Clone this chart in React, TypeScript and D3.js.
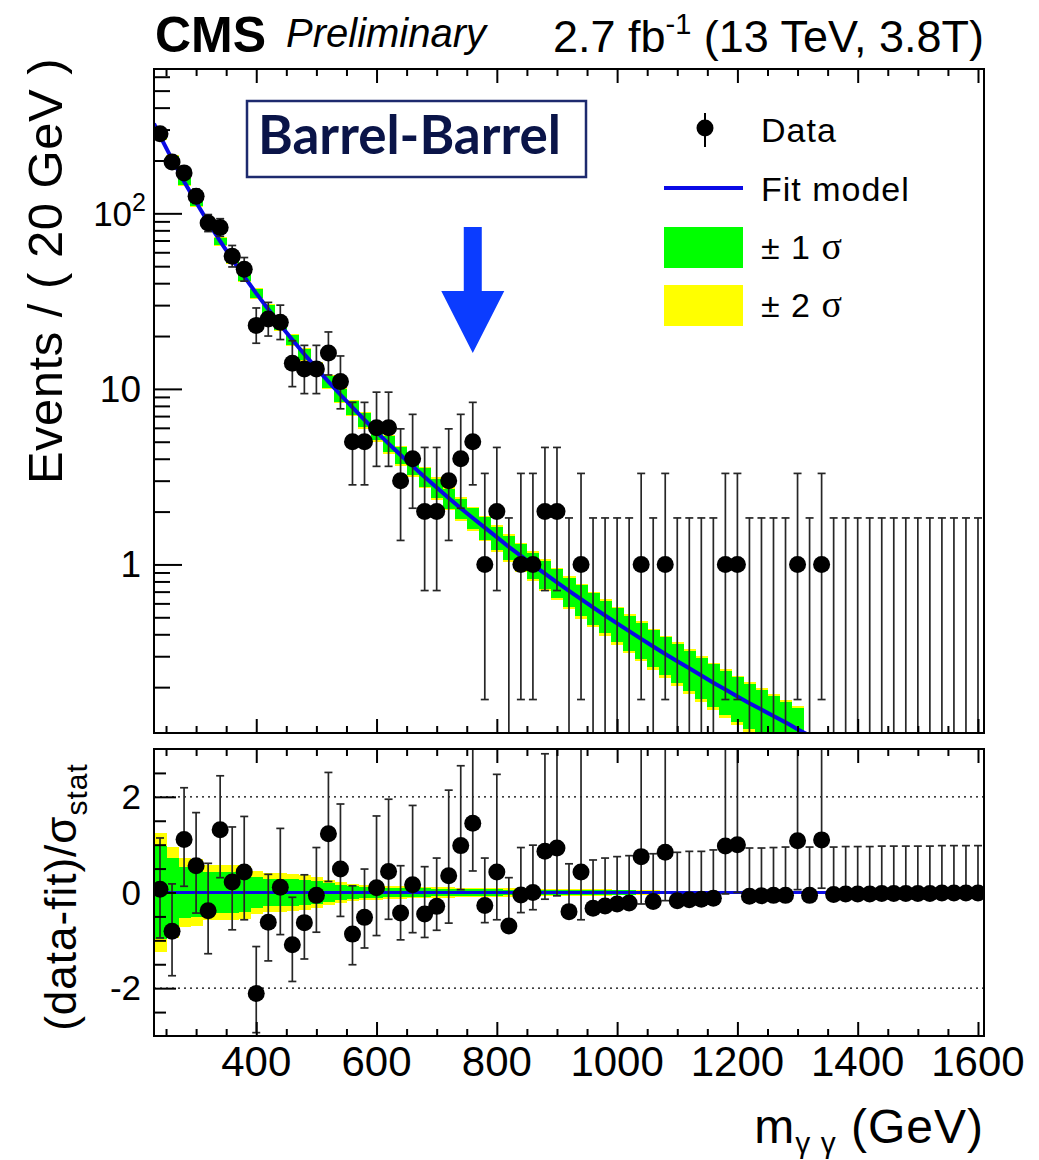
import React, { useRef, useEffect } from 'react';
import * as d3 from 'd3';

// diphoton mass bin centres (GeV), 20 GeV wide
const massBins = [
  240, 260, 280, 300, 320, 340, 360, 380, 400, 420, 440, 460, 480, 500, 520, 540, 560, 580, 600, 620,
  640, 660, 680, 700, 720, 740, 760, 780, 800, 820, 840, 860, 880, 900, 920, 940, 960, 980, 1000, 1020,
  1040, 1060, 1080, 1100, 1120, 1140, 1160, 1180, 1200, 1220, 1240, 1260, 1280, 1300, 1320, 1340, 1360,
  1380, 1400, 1420, 1440, 1460, 1480, 1500, 1520, 1540, 1560, 1580, 1600,
];

// observed events per bin
const events = [
  284, 196, 170, 125, 88, 83, 57, 48, 23, 25, 24, 14, 13, 13, 16, 11, 5, 5, 6, 6,
  3, 4, 2, 2, 3, 4, 5, 1, 2, 0, 1, 1, 2, 2, 0, 1, 0, 0, 0, 0,
  1, 0, 1, 0, 0, 0, 0, 1, 1, 0, 0, 0, 0, 1, 0, 1, 0,
  0, 0, 0, 0, 0, 0, 0, 0, 0, 0, 0, 0,
];

// poisson interval (down / up) on the events
const eventsErrDown = [
  16.8, 13.9, 13.0, 11.1, 9.3, 9.1, 7.5, 6.9, 4.8, 5.0, 4.9, 3.7, 3.6, 3.6, 4.0, 3.3, 2.16, 2.16, 2.38, 2.38,
  1.63, 1.91, 1.29, 1.29, 1.63, 1.91, 2.16, 0.83, 1.29, 0, 0.83, 0.83, 1.29, 1.29, 0, 0.83, 0, 0, 0, 0,
  0.83, 0, 0.83, 0, 0, 0, 0, 0.83, 0.83, 0, 0, 0, 0, 0.83, 0, 0.83, 0,
  0, 0, 0, 0, 0, 0, 0, 0, 0, 0, 0, 0,
];
const eventsErrUp = [
  17.9, 15.0, 14.1, 12.2, 10.4, 10.2, 8.6, 8.0, 5.9, 6.1, 6.0, 4.8, 4.7, 4.7, 5.1, 4.4, 3.38, 3.38, 3.58, 3.58,
  2.92, 3.16, 2.64, 2.64, 2.92, 3.16, 3.38, 2.3, 2.64, 1.84, 2.3, 2.3, 2.64, 2.64, 1.84, 2.3, 1.84, 1.84, 1.84, 1.84,
  2.3, 1.84, 2.3, 1.84, 1.84, 1.84, 1.84, 2.3, 2.3, 1.84, 1.84, 1.84, 1.84, 2.3, 1.84, 2.3, 1.84,
  1.84, 1.84, 1.84, 1.84, 1.84, 1.84, 1.84, 1.84, 1.84, 1.84, 1.84, 1.84,
];

// fit model curve
const fitMass = [
  230, 240, 260, 280, 300, 320, 340, 360, 380, 400, 420, 440, 460, 480, 500, 520, 540, 560, 580, 600,
  620, 640, 660, 680, 700, 720, 740, 760, 780, 800, 820, 840, 860, 880, 900, 920, 940, 960, 980, 1000,
  1020, 1040, 1060, 1080, 1100, 1120, 1140, 1160, 1180, 1200, 1220, 1240, 1260, 1280, 1300, 1320, 1340,
];
const fitEvents = [
  324, 276, 203, 152, 115.5, 88.9, 69.4, 54.7, 43.6, 35.0, 28.4, 23.1, 19.05, 15.76, 13.13, 11.0, 9.26, 7.84, 6.66, 5.69,
  4.88, 4.2, 3.63, 3.15, 2.74, 2.39, 2.09, 1.84, 1.62, 1.43, 1.26, 1.12, 0.994, 0.886, 0.791, 0.707, 0.634, 0.569, 0.512, 0.462,
  0.417, 0.377, 0.341, 0.309, 0.281, 0.256, 0.233, 0.212, 0.194, 0.177, 0.162, 0.149, 0.137, 0.126, 0.115, 0.106, 0.098,
];

// relative fit uncertainty bands (bins 240..1300)
const band1Rel = [
  0.04, 0.04, 0.04, 0.045, 0.045, 0.045, 0.05, 0.05, 0.055, 0.06, 0.06, 0.065, 0.07, 0.075, 0.08, 0.085, 0.09, 0.095,
  0.1, 0.105, 0.11, 0.115, 0.12, 0.125, 0.13, 0.135, 0.14, 0.145, 0.15, 0.16, 0.165, 0.17, 0.18, 0.185, 0.19, 0.2,
  0.205, 0.21, 0.22, 0.225, 0.23, 0.24, 0.245, 0.25, 0.26, 0.265, 0.27, 0.28, 0.285, 0.29, 0.3, 0.305, 0.31, 0.32,
];
const band2Rel = [
  0.055, 0.055, 0.055, 0.06, 0.06, 0.06, 0.065, 0.065, 0.07, 0.075, 0.075, 0.08, 0.085, 0.09, 0.095, 0.1, 0.105, 0.11,
  0.12, 0.125, 0.13, 0.135, 0.14, 0.145, 0.15, 0.155, 0.16, 0.165, 0.175, 0.185, 0.19, 0.195, 0.205, 0.21, 0.215, 0.225,
  0.23, 0.235, 0.245, 0.25, 0.255, 0.265, 0.27, 0.28, 0.29, 0.295, 0.3, 0.31, 0.315, 0.32, 0.33, 0.335, 0.34, 0.35,
];

// (data-fit)/sigma_stat per bin
const pulls = [
  0.07, -0.81, 1.11, 0.56, -0.38, 1.31, 0.22, 0.43, -2.11, -0.62, 0.11, -1.09, -0.63, -0.06, 1.23, 0.49, -0.87, -0.52, 0.1, 0.44,
  -0.43, 0.16, -0.45, -0.29, 0.35, 0.98, 1.45, -0.27, 0.43, -0.7, -0.05, 0.0, 0.86, 0.93, -0.4, 0.43, -0.33, -0.28, -0.24, -0.22,
  0.75, -0.19, 0.84, -0.17, -0.15, -0.14, -0.12, 0.97, 1.0, -0.08, -0.07, -0.06, -0.06, 1.08, -0.06, 1.1, -0.04,
  -0.03, -0.03, -0.03, -0.02, -0.02, -0.02, -0.02, -0.02, -0.01, -0.01, -0.01, -0.01,
];
const pullErrDown = [
  1.02, 0.93, 0.98, 0.99, 0.9, 1.0, 1.0, 1.0, 0.82, 0.81, 0.99, 0.77, 0.76, 0.77, 1.0, 0.99, 0.64, 0.64, 1.0, 1.0,
  0.56, 1.0, 0.49, 0.5, 0.99, 0.92, 1.0, 0.36, 1.0, 0, 0.37, 0.36, 1.0, 1.0, 0, 1.0, 0, 0, 0, 0,
  0.99, 0, 1.01, 0, 0, 0, 0, 1.0, 1.0, 0, 0, 0, 0, 1.02, 0, 1.01, 0,
  0, 0, 0, 0, 0, 0, 0, 0, 0, 0, 0, 0,
];
const pullErrUp = [
  1.07, 0.99, 1.08, 1.11, 0.99, 1.13, 1.15, 1.16, 0.98, 1.0, 1.23, 0.99, 1.0, 1.0, 1.28, 1.36, 1.01, 1.01, 1.5, 1.51,
  0.99, 1.66, 0.99, 1.01, 1.79, 1.67, 1.75, 0.99, 2.04, 1.01, 0.99, 0.99, 2.04, 2.2, 1.0, 2.77, 1.01, 1.0, 0.99, 0.99,
  2.77, 1.0, 2.77, 1.01, 1.01, 1.0, 1.01, 2.77, 2.77, 1.01, 1.0, 1.0, 1.01, 2.77, 1.01, 2.77, 0.99,
  0.99, 0.99, 0.99, 0.99, 0.99, 0.99, 0.99, 0.99, 0.99, 0.99, 0.99, 0.99,
];
const pullBand2 = [
  1.25, 0.95, 0.72, 0.7, 0.58, 0.58, 0.58, 0.55, 0.45, 0.4, 0.4, 0.38, 0.36, 0.33, 0.26, 0.22, 0.18, 0.16, 0.15, 0.14,
  0.13, 0.125, 0.12, 0.11, 0.105, 0.1, 0.095, 0.09, 0.09, 0.085, 0.085, 0.08, 0.08, 0.075, 0.075, 0.07, 0.07, 0.065, 0.06, 0.06,
  0.055, 0.05, 0.04, 0.03, 0.025, 0.02, 0.02, 0.015, 0.015, 0.01, 0.01, 0.01, 0.01, 0.01, 0.01, 0.01, 0.01,
  0.01, 0.01, 0.01, 0.01, 0.01, 0.01, 0.01, 0.01, 0.01, 0.01, 0.01, 0.01,
];
const pullBand1 = [
  0.98, 0.72, 0.54, 0.52, 0.43, 0.43, 0.42, 0.4, 0.33, 0.29, 0.29, 0.28, 0.26, 0.24, 0.19, 0.16, 0.13, 0.12, 0.11, 0.1,
  0.095, 0.09, 0.085, 0.08, 0.075, 0.07, 0.07, 0.065, 0.065, 0.06, 0.06, 0.058, 0.058, 0.055, 0.055, 0.05, 0.05, 0.047, 0.044, 0.044,
  0.04, 0.036, 0.03, 0.022, 0.018, 0.015, 0.015, 0.011, 0.011, 0.007, 0.007, 0.007, 0.007, 0.007, 0.007, 0.007, 0.007,
  0.007, 0.007, 0.007, 0.007, 0.007, 0.007, 0.007, 0.007, 0.007, 0.007, 0.007, 0.007,
];

const xTickLabels = [400, 600, 800, 1000, 1200, 1400, 1600];
const yTickLabels = [1, 10, 100];
const pullTickLabels = [-2, 0, 2];

// signal region marker
const arrowMass = 760;
const arrowTipEvents = 16;

const W = 1039;
const H = 1160;
const FONT = '"Liberation Sans", Arial, Helvetica, sans-serif';
const BLUE = '#0a0ae6';
const box = { left: 154, right: 984, top: 69, mid: 733, pullTop: 749, bottom: 1036 };

const DiphotonPlot = () => {
  const svgRef = useRef<SVGSVGElement | null>(null);

  useEffect(() => {
    const svg = d3.select(svgRef.current);
    svg.selectAll('*').remove();

    const x = d3.scaleLinear().domain([230, 1610]).range([box.left, box.right]);
    const y = d3.scaleLog().domain([0.1096, 664]).range([box.mid, box.top]);
    const yp = d3.scaleLinear().domain([-3, 3]).range([box.bottom, box.pullTop]);
    const half = 10;
    const fitAt = new Map(fitMass.map((m, i) => [m, fitEvents[i]]));

    const defs = svg.append('defs');
    defs.append('clipPath').attr('id', 'clip-top').append('rect')
      .attr('x', box.left).attr('y', box.top)
      .attr('width', box.right - box.left).attr('height', box.mid - box.top);
    defs.append('clipPath').attr('id', 'clip-pull').append('rect')
      .attr('x', box.left).attr('y', box.pullTop)
      .attr('width', box.right - box.left).attr('height', box.bottom - box.pullTop);

    // ---------- upper panel ----------
    const top = svg.append('g').attr('clip-path', 'url(#clip-top)');
    const bandBins = massBins.slice(0, band1Rel.length);

    const drawBand = (rel: number[], color: string) => {
      top.append('g').selectAll('rect').data(bandBins).enter().append('rect')
        .attr('x', (d) => x(d - half))
        .attr('width', (d) => x(d + half) - x(d - half) + 0.5)
        .attr('y', (d, i) => y(fitAt.get(d)! * (1 + rel[i])))
        .attr('height', (d, i) => Math.min(y(fitAt.get(d)! * (1 - rel[i])), box.mid + 5) - y(fitAt.get(d)! * (1 + rel[i])))
        .attr('fill', color)
        .attr('shape-rendering', 'crispEdges');
    };
    drawBand(band2Rel, '#ffff00');
    drawBand(band1Rel, '#00ff00');

    const fitLine = d3.line<number>()
      .x((d, i) => x(fitMass[i]))
      .y((d) => y(d));
    top.append('path').datum(fitEvents)
      .attr('d', fitLine)
      .attr('fill', 'none')
      .attr('stroke', BLUE)
      .attr('stroke-width', 4);

    const errTop = top.append('g').attr('stroke', '#262626').attr('stroke-width', 1.7);
    const topRows = massBins.map((m, i) => ({
      m,
      n: events[i],
      hi: events[i] + eventsErrUp[i],
      lo: events[i] - eventsErrDown[i],
    }));
    errTop.selectAll('line.v').data(topRows).enter().append('line')
      .attr('x1', (d) => x(d.m)).attr('x2', (d) => x(d.m))
      .attr('y1', (d) => y(d.hi))
      .attr('y2', (d) => (d.lo > 0 ? y(d.lo) : box.mid + 5));
    errTop.selectAll('line.hi').data(topRows).enter().append('line')
      .attr('x1', (d) => x(d.m) - 4).attr('x2', (d) => x(d.m) + 4)
      .attr('y1', (d) => y(d.hi)).attr('y2', (d) => y(d.hi));
    errTop.selectAll('line.lo').data(topRows.filter((d) => d.lo > 0)).enter().append('line')
      .attr('x1', (d) => x(d.m) - 4).attr('x2', (d) => x(d.m) + 4)
      .attr('y1', (d) => y(d.lo)).attr('y2', (d) => y(d.lo));
    top.append('g').selectAll('circle').data(topRows.filter((d) => d.n > 0)).enter().append('circle')
      .attr('cx', (d) => x(d.m)).attr('cy', (d) => y(d.n)).attr('r', 8.5).attr('fill', '#000');

    // ---------- pull panel ----------
    const pull = svg.append('g').attr('clip-path', 'url(#clip-pull)');
    const drawPullBand = (w: number[], color: string) => {
      pull.append('g').selectAll('rect').data(massBins).enter().append('rect')
        .attr('x', (d) => x(d - half))
        .attr('width', (d) => x(d + half) - x(d - half) + 0.5)
        .attr('y', (d, i) => yp(w[i]))
        .attr('height', (d, i) => yp(-w[i]) - yp(w[i]))
        .attr('fill', color)
        .attr('shape-rendering', 'crispEdges');
    };
    drawPullBand(pullBand2, '#ffff00');
    drawPullBand(pullBand1, '#00ff00');

    pull.append('g').selectAll('line').data([-2, 2]).enter().append('line')
      .attr('x1', box.left).attr('x2', box.right)
      .attr('y1', (d) => yp(d)).attr('y2', (d) => yp(d))
      .attr('stroke', '#000').attr('stroke-width', 1.4).attr('stroke-dasharray', '2,4');
    pull.append('line')
      .attr('x1', box.left).attr('x2', box.right)
      .attr('y1', yp(0)).attr('y2', yp(0))
      .attr('stroke', BLUE).attr('stroke-width', 3);

    const pullRows = massBins.map((m, i) => ({
      m,
      p: pulls[i],
      hi: pulls[i] + pullErrUp[i],
      lo: pulls[i] - pullErrDown[i],
      hasLo: pullErrDown[i] > 0,
    }));
    const errPull = pull.append('g').attr('stroke', '#262626').attr('stroke-width', 1.7);
    errPull.selectAll('line.v').data(pullRows).enter().append('line')
      .attr('x1', (d) => x(d.m)).attr('x2', (d) => x(d.m))
      .attr('y1', (d) => yp(d.hi)).attr('y2', (d) => yp(d.lo));
    errPull.selectAll('line.hi').data(pullRows).enter().append('line')
      .attr('x1', (d) => x(d.m) - 4).attr('x2', (d) => x(d.m) + 4)
      .attr('y1', (d) => yp(d.hi)).attr('y2', (d) => yp(d.hi));
    errPull.selectAll('line.lo').data(pullRows.filter((d) => d.hasLo)).enter().append('line')
      .attr('x1', (d) => x(d.m) - 4).attr('x2', (d) => x(d.m) + 4)
      .attr('y1', (d) => yp(d.lo)).attr('y2', (d) => yp(d.lo));
    pull.append('g').selectAll('circle').data(pullRows).enter().append('circle')
      .attr('cx', (d) => x(d.m)).attr('cy', (d) => yp(d.p)).attr('r', 8.5).attr('fill', '#000');

    // ---------- frames and ticks ----------
    const cleanTicks = (g: any) => {
      g.select('.domain').remove();
      g.selectAll('text').remove();
      g.selectAll('line').attr('stroke', '#000').attr('stroke-width', 2);
    };
    const xAll = d3.range(250, 1601, 50);
    const xMajor = xAll.filter((v) => v % 200 === 0);
    const xMinor = xAll.filter((v) => v % 200 !== 0);

    [[box.top, box.mid], [box.pullTop, box.bottom]].forEach(([t, b]) => {
      svg.append('g').attr('transform', `translate(0,${b})`)
        .call(d3.axisBottom(x).tickValues(xMajor).tickSize(-14)).call(cleanTicks);
      svg.append('g').attr('transform', `translate(0,${b})`)
        .call(d3.axisBottom(x).tickValues(xMinor).tickSize(-7)).call(cleanTicks);
      svg.append('g').attr('transform', `translate(0,${t})`)
        .call(d3.axisTop(x).tickValues(xMajor).tickSize(-14)).call(cleanTicks);
      svg.append('g').attr('transform', `translate(0,${t})`)
        .call(d3.axisTop(x).tickValues(xMinor).tickSize(-7)).call(cleanTicks);
      svg.append('rect')
        .attr('x', box.left).attr('y', t)
        .attr('width', box.right - box.left).attr('height', b - t)
        .attr('fill', 'none').attr('stroke', '#000').attr('stroke-width', 2);
    });

    const yAll = y.ticks();
    const yMajor = yAll.filter((v) => Math.abs(Math.log10(v) - Math.round(Math.log10(v))) < 1e-9);
    const yMinor = yAll.filter((v) => !yMajor.includes(v));
    svg.append('g').attr('transform', `translate(${box.left},0)`)
      .call(d3.axisLeft(y).tickValues(yMajor).tickSize(-28)).call(cleanTicks);
    svg.append('g').attr('transform', `translate(${box.left},0)`)
      .call(d3.axisLeft(y).tickValues(yMinor).tickSize(-16)).call(cleanTicks);

    const pAll = d3.range(-2.5, 2.51, 0.5);
    svg.append('g').attr('transform', `translate(${box.left},0)`)
      .call(d3.axisLeft(yp).tickValues(pullTickLabels).tickSize(-22)).call(cleanTicks);
    svg.append('g').attr('transform', `translate(${box.left},0)`)
      .call(d3.axisLeft(yp).tickValues(pAll.filter((v) => v % 2 !== 0)).tickSize(-12)).call(cleanTicks);

    // ---------- tick labels ----------
    svg.append('g').selectAll('text').data(xTickLabels).enter().append('text')
      .attr('x', (d) => x(d)).attr('y', 1076)
      .attr('text-anchor', 'middle')
      .attr('font-family', FONT).attr('font-size', 42)
      .text((d) => d);

    const yl = svg.append('g').attr('font-family', FONT).attr('text-anchor', 'end');
    yTickLabels.forEach((v) => {
      const t = yl.append('text').attr('x', v === 100 ? 146 : 141).attr('y', y(v) + 13);
      if (v === 100) {
        t.append('tspan').attr('font-size', 35).text('10');
        t.append('tspan').attr('font-size', 25).attr('dy', -15).text('2');
      } else {
        t.attr('font-size', 37).text(v);
      }
    });
    yl.selectAll('text.p').data(pullTickLabels).enter().append('text')
      .attr('x', 141).attr('y', (d) => yp(d) + 12)
      .attr('font-size', 35)
      .text((d) => d);

    // ---------- titles ----------
    svg.append('text')
      .attr('x', 155).attr('y', 52)
      .attr('font-family', FONT).attr('font-weight', 'bold').attr('font-size', 50)
      .text('CMS');
    svg.append('text')
      .attr('x', 286).attr('y', 47)
      .attr('font-family', FONT).attr('font-style', 'italic').attr('font-size', 40)
      .text('Preliminary');
    const lumi = svg.append('text')
      .attr('x', 984).attr('y', 52).attr('text-anchor', 'end')
      .attr('font-family', FONT).attr('font-size', 45);
    lumi.append('tspan').text('2.7 fb');
    lumi.append('tspan').attr('font-size', 29).attr('dy', -18).text('-1');
    lumi.append('tspan').attr('dy', 18).text(' (13 TeV, 3.8T)');

    svg.append('text')
      .attr('transform', 'translate(62,271) rotate(-90)')
      .attr('text-anchor', 'middle')
      .attr('font-family', FONT).attr('font-size', 49).attr('letter-spacing', 0.5)
      .text('Events / ( 20 GeV )');

    const pt = svg.append('text')
      .attr('transform', 'translate(76,897) rotate(-90)')
      .attr('text-anchor', 'middle')
      .attr('font-family', FONT).attr('font-size', 44).attr('letter-spacing', 1);
    pt.append('tspan').text('(data-fit)/σ');
    pt.append('tspan').attr('font-size', 30).attr('dy', 11).text('stat');

    const xt = svg.append('text')
      .attr('x', 984).attr('y', 1143).attr('text-anchor', 'end')
      .attr('font-family', FONT).attr('font-size', 48).attr('letter-spacing', 1);
    xt.append('tspan').text('m');
    xt.append('tspan').attr('font-size', 30).attr('dy', 10).text('γ γ');
    xt.append('tspan').attr('dy', -10).text(' (GeV)');

    // ---------- category box ----------
    svg.append('rect')
      .attr('x', 247).attr('y', 101).attr('width', 339).attr('height', 76)
      .attr('fill', '#fff').attr('stroke', '#1d2a6e').attr('stroke-width', 2.5);
    svg.append('text')
      .attr('x', 258).attr('y', 154)
      .attr('font-family', 'Lato, "Open Sans", sans-serif').attr('font-weight', 700).attr('font-size', 53)
      .attr('fill', '#0a1448')
      .text('Barrel-Barrel');

    // ---------- arrow ----------
    const ax = x(arrowMass);
    const tip = y(arrowTipEvents);
    svg.append('path')
      .attr('d', `M${ax - 9},${tip - 126}L${ax + 9},${tip - 126}L${ax + 9},${tip - 62}L${ax + 31.5},${tip - 62}L${ax},${tip}L${ax - 31.5},${tip - 62}L${ax - 9},${tip - 62}Z`)
      .attr('fill', '#0b3cff');

    // ---------- legend ----------
    const lg = svg.append('g').attr('font-family', FONT).attr('font-size', 34).attr('letter-spacing', 1);
    lg.append('line').attr('x1', 705).attr('x2', 705).attr('y1', 113).attr('y2', 147)
      .attr('stroke', '#000').attr('stroke-width', 2);
    lg.append('circle').attr('cx', 705).attr('cy', 128).attr('r', 8.5).attr('fill', '#000');
    lg.append('text').attr('x', 761).attr('y', 142).text('Data');
    lg.append('line').attr('x1', 664).attr('x2', 743).attr('y1', 188).attr('y2', 188)
      .attr('stroke', BLUE).attr('stroke-width', 4);
    lg.append('text').attr('x', 761).attr('y', 201).text('Fit model');
    lg.append('rect').attr('x', 664).attr('y', 227).attr('width', 79).attr('height', 41).attr('fill', '#00ff00');
    lg.append('rect').attr('x', 664).attr('y', 285).attr('width', 79).attr('height', 41).attr('fill', '#ffff00');
    const s1 = lg.append('text').attr('x', 761).attr('y', 259);
    s1.append('tspan').text('± 1 ');
    s1.append('tspan').attr('font-family', '"Liberation Serif", "DejaVu Serif", serif').attr('font-size', 38).text('σ');
    const s2 = lg.append('text').attr('x', 761).attr('y', 317);
    s2.append('tspan').text('± 2 ');
    s2.append('tspan').attr('font-family', '"Liberation Serif", "DejaVu Serif", serif').attr('font-size', 38).text('σ');
  }, []);

  return (
    <svg
      ref={svgRef}
      width={W}
      height={H}
      style={{ position: 'absolute', left: 0, top: 0, background: '#fff' }}
    />
  );
};

export default function App() {
  return <DiphotonPlot />;
}
